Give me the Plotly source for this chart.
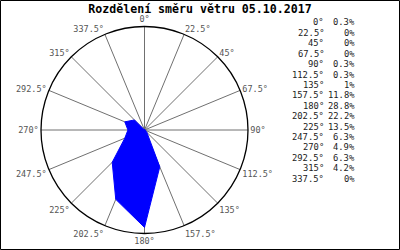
import plotly.graph_objects as go

directions = [0, 22.5, 45, 67.5, 90, 112.5, 135, 157.5, 180, 202.5, 225, 247.5, 270, 292.5, 315, 337.5]
dir_labels = ["0°", "22.5°", "45°", "67.5°", "90°", "112.5°", "135°", "157.5°", "180°",
              "202.5°", "225°", "247.5°", "270°", "292.5°", "315°", "337.5°"]
values = [0.3, 0, 0, 0, 0.3, 0.3, 1, 11.8, 28.8, 22.2, 13.5, 6.3, 4.9, 6.3, 4.2, 0]
value_labels = ["0.3%", "0%", "0%", "0%", "0.3%", "0.3%", "1%", "11.8%", "28.8%",
                "22.2%", "13.5%", "6.3%", "4.9%", "6.3%", "4.2%", "0%"]
title_text = "Rozdělení směru větru 05.10.2017"

W, H = 400, 250
fig = go.Figure()
fig.add_trace(go.Scatterpolar(
    r=values + [values[0]],
    theta=directions + [directions[0]],
    mode="lines",
    fill="toself",
    fillcolor="#0000ff",
    line=dict(color="#0000ff", width=1),
    hoverinfo="skip",
))

mono = "DejaVu Sans Mono"
cx, cy, R = 144.5, 130, 103.5
fig.update_layout(
    width=W, height=H,
    margin=dict(l=0, r=0, t=0, b=0),
    paper_bgcolor="white",
    plot_bgcolor="white",
    showlegend=False,
    polar=dict(
        domain=dict(x=[(cx - R) / W, (cx + R) / W], y=[1 - (cy + R) / H, 1 - (cy - R) / H]),
        bgcolor="white",
        radialaxis=dict(visible=False, range=[0, 30.6], showgrid=False),
        angularaxis=dict(
            rotation=90, direction="clockwise",
            tickmode="array", tickvals=directions, ticktext=dir_labels,
            showline=True, linecolor="black", linewidth=1.3,
            showgrid=True, gridcolor="#707070", gridwidth=1,
            ticks="",
            tickfont=dict(family=mono, size=8.5, color="#555555"),
        ),
    ),
    title=dict(text="<b>" + title_text + "</b>", x=0.5, xanchor="center",
               y=1 - 8.5 / H, yanchor="middle",
               font=dict(family=mono, size=11.6, color="black")),
)

row0, step = 22.5, 10.4
for i, (dl, vl) in enumerate(zip(dir_labels, value_labels)):
    y = 1 - (row0 + i * step) / H
    fig.add_annotation(x=326 / W, y=y, xref="paper", yref="paper", text=dl,
                       showarrow=False, xanchor="right", yanchor="middle",
                       font=dict(family=mono, size=8.8, color="#222222"))
    fig.add_annotation(x=357 / W, y=y, xref="paper", yref="paper", text=vl,
                       showarrow=False, xanchor="right", yanchor="middle",
                       font=dict(family=mono, size=8.8, color="#222222"))

fig.add_shape(type="rect", xref="paper", yref="paper", x0=0.5 / W, y0=0.5 / H,
              x1=1 - 0.5 / W, y1=1 - 0.5 / H, line=dict(color="black", width=1))

fig.write_html("out.html")
